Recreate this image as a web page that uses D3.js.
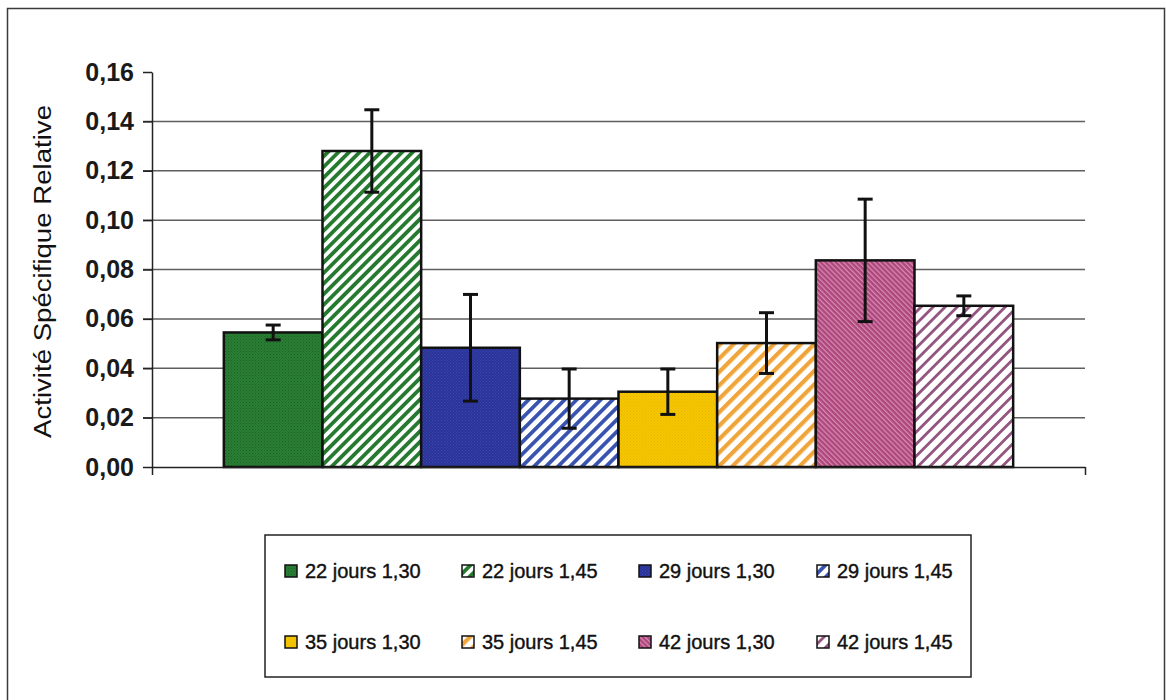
<!DOCTYPE html>
<html>
<head>
<meta charset="utf-8">
<script src="https://cdn.jsdelivr.net/npm/d3@7"></script>
<style>
  html, body { margin: 0; padding: 0; background: #fff; }
  svg { display: block; }
</style>
</head>
<body>
<svg id="chart" width="1166" height="700"></svg>
<script>
// ---- data ----
const seriesNames = ["22 jours 1,30", "22 jours 1,45", "29 jours 1,30", "29 jours 1,45",
                     "35 jours 1,30", "35 jours 1,45", "42 jours 1,30", "42 jours 1,45"];
const seriesValues = [0.0545, 0.128, 0.0483, 0.0277, 0.0305, 0.0502, 0.0837, 0.0653];
const seriesErrors = [0.0030, 0.0167, 0.0216, 0.0120, 0.0092, 0.0123, 0.0248, 0.0040];
const yTicks = [0, 0.02, 0.04, 0.06, 0.08, 0.10, 0.12, 0.14, 0.16];
const yTitle = "Activité Spécifique Relative";

// ---- layout ----
const svg = d3.select("#chart");
const plot = { left: 152, right: 1085, top: 72, bottom: 467 };
const FONT = "'Liberation Sans', Arial, sans-serif";

// outer frame
svg.append("rect").attr("x", 7.5).attr("y", 8.5).attr("width", 1157).attr("height", 720)
  .attr("fill", "none").attr("stroke", "#3a3a3a").attr("stroke-width", 1.5);

// ---- patterns ----
const defs = svg.append("defs");
function stripes(id, color, size, stripeW, angle) {
  const p = defs.append("pattern").attr("id", id).attr("patternUnits", "userSpaceOnUse")
    .attr("width", size).attr("height", size).attr("patternTransform", `rotate(${angle})`);
  p.append("rect").attr("width", size).attr("height", size).attr("fill", "#fff");
  p.append("rect").attr("width", stripeW).attr("height", size).attr("fill", color);
}
function texture(id, base, dot) {
  const p = defs.append("pattern").attr("id", id).attr("patternUnits", "userSpaceOnUse")
    .attr("width", 3).attr("height", 3);
  p.append("rect").attr("width", 3).attr("height", 3).attr("fill", base);
  p.append("rect").attr("x", 0).attr("y", 0).attr("width", 1).attr("height", 1).attr("fill", dot);
  p.append("rect").attr("x", 1.5).attr("y", 1.5).attr("width", 1).attr("height", 1).attr("fill", dot);
}
texture("p0", "#2a7f35", "#1b6125");
stripes("p1", "#257a30", 7.5, 3.8, 45);
texture("p2", "#2a3397", "#3c48b0");
stripes("p3", "#3853b0", 8.5, 3.8, 45);
texture("p4", "#f6c700", "#e8b600");
stripes("p5", "#f0a53a", 9.5, 4.2, 45);
(function () {
  const p = defs.append("pattern").attr("id", "p6").attr("patternUnits", "userSpaceOnUse")
    .attr("width", 3.6).attr("height", 3.6).attr("patternTransform", "rotate(-45)");
  p.append("rect").attr("width", 3.6).attr("height", 3.6).attr("fill", "#ad477c");
  p.append("rect").attr("width", 1.2).attr("height", 3.6).attr("fill", "#d98db3");
})();
stripes("p7", "#93557f", 8.5, 2.8, 45);
const fills = seriesNames.map((d, i) => `url(#p${i})`);

// ---- scales ----
const y = d3.scaleLinear().domain([0, 0.16]).range([plot.bottom, plot.top]);
const xCat = d3.scaleBand().domain(["c"]).range([plot.left, plot.right])
  .paddingInner(0).paddingOuter(0.091);
const x = d3.scaleBand().domain(seriesNames)
  .range([xCat("c"), xCat("c") + xCat.bandwidth()]).padding(0);

const locale = d3.formatLocale({ decimal: ",", thousands: " ", grouping: [3], currency: ["", "€"] });
const fmt = locale.format(".2f");

// gridlines
svg.append("g").selectAll("line").data(yTicks.filter(t => t > 0 && t < 0.16)).join("line")
  .attr("x1", plot.left - 9).attr("x2", plot.right)
  .attr("y1", d => y(d)).attr("y2", d => y(d))
  .attr("stroke", "#5e5e5e").attr("stroke-width", 1.5);

// bars
svg.append("g").selectAll("rect").data(seriesNames).join("rect")
  .attr("x", d => x(d)).attr("width", x.bandwidth())
  .attr("y", (d, i) => y(seriesValues[i]))
  .attr("height", (d, i) => y(0) - y(seriesValues[i]))
  .attr("fill", (d, i) => fills[i])
  .attr("stroke", "#111").attr("stroke-width", 2.5);

// error bars
const eb = svg.append("g").attr("stroke", "#111").attr("stroke-width", 3);
seriesNames.forEach((d, i) => {
  const cx = x(d) + x.bandwidth() / 2;
  const hi = y(seriesValues[i] + seriesErrors[i]);
  const lo = y(seriesValues[i] - seriesErrors[i]);
  eb.append("line").attr("x1", cx).attr("x2", cx).attr("y1", hi).attr("y2", lo);
  eb.append("line").attr("x1", cx - 7.5).attr("x2", cx + 7.5).attr("y1", hi).attr("y2", hi);
  eb.append("line").attr("x1", cx - 7.5).attr("x2", cx + 7.5).attr("y1", lo).attr("y2", lo);
});

// y axis
const yAxis = d3.axisLeft(y).tickValues(yTicks).tickFormat(fmt).tickSize(9).tickSizeOuter(0).tickPadding(9);
const gy = svg.append("g").attr("transform", `translate(${plot.left},0)`).call(yAxis);
gy.select(".domain").attr("stroke", "#222").attr("stroke-width", 1.5);
gy.selectAll(".tick line").attr("stroke", "#222").attr("stroke-width", 1.5);
gy.selectAll(".tick text").attr("font-family", FONT).attr("font-size", 25)
  .attr("font-weight", "bold").attr("fill", "#1a1a1a");

// x axis
const xAxisScale = d3.scaleLinear().domain([0, 1]).range([plot.left, plot.right]);
const gx = svg.append("g").attr("transform", `translate(0,${plot.bottom})`)
  .call(d3.axisBottom(xAxisScale).tickValues([0, 1]).tickFormat("").tickSize(8).tickSizeOuter(0));
gx.select(".domain").attr("stroke", "#222").attr("stroke-width", 1.5);
gx.selectAll(".tick line").attr("stroke", "#222").attr("stroke-width", 1.5);

// y title
svg.append("text").attr("transform", `translate(51,${(105 + 438) / 2}) rotate(-90)`)
  .attr("text-anchor", "middle").attr("font-family", FONT).attr("font-size", 23)
  .attr("textLength", 333).attr("lengthAdjust", "spacingAndGlyphs")
  .attr("fill", "#111").text(yTitle);

// legend
svg.append("rect").attr("x", 265).attr("y", 535).attr("width", 706).attr("height", 142)
  .attr("fill", "#fff").attr("stroke", "#222").attr("stroke-width", 1.5);
const legX = [285, 462, 639, 817];
const legY = [571, 642];
const lg = svg.append("g").selectAll("g").data(seriesNames).join("g")
  .attr("transform", (d, i) => `translate(${legX[i % 4]},${legY[Math.floor(i / 4)]})`);
lg.append("rect").attr("x", 0).attr("y", -6).attr("width", 12).attr("height", 12)
  .attr("fill", (d, i) => fills[i]).attr("stroke", "#111").attr("stroke-width", 1.5);
lg.append("text").attr("x", 20).attr("y", 0).attr("dy", "0.35em")
  .attr("font-family", FONT).attr("font-size", 20).attr("fill", "#111")
  .attr("stroke", "#111").attr("stroke-width", 0.4).text(d => d);
</script>
</body>
</html>
